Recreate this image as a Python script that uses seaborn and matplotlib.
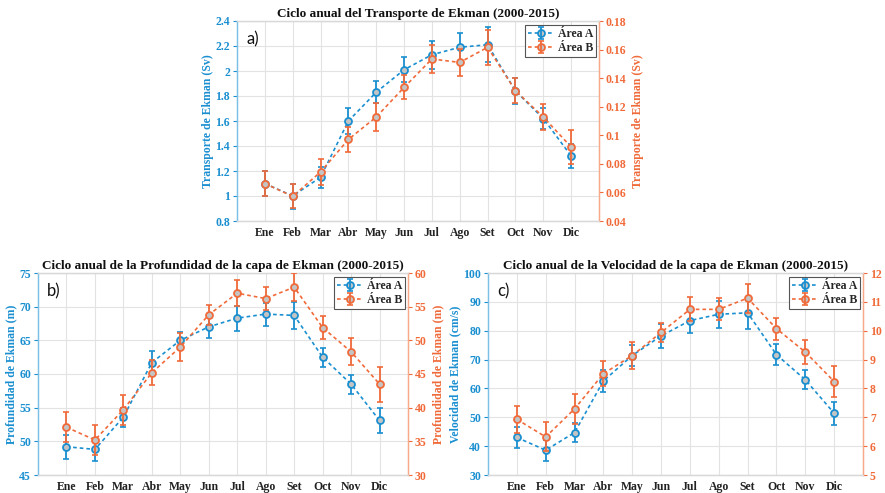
import numpy as np
import pandas as pd
import matplotlib
matplotlib.use("Agg")
import matplotlib.pyplot as plt
import seaborn as sns
from matplotlib.ticker import FuncFormatter, MultipleLocator
from matplotlib.legend_handler import HandlerTuple

# ---------------- data ----------------
meses = ["Ene", "Feb", "Mar", "Abr", "May", "Jun", "Jul", "Ago", "Set", "Oct", "Nov", "Dic"]

# a) Transporte de Ekman
trans_A = [1.10, 1.00, 1.15, 1.60, 1.83, 2.01, 2.13, 2.19, 2.21, 1.84, 1.62, 1.32]
trans_A_err = [0.10, 0.10, 0.085, 0.10, 0.087, 0.10, 0.11, 0.117, 0.139, 0.10, 0.083, 0.097]
trans_B = [0.0662, 0.0573, 0.0743, 0.0971, 0.1128, 0.1335, 0.1534, 0.1510, 0.1616, 0.1312, 0.1128, 0.0918]
trans_B_err = [0.0087, 0.0085, 0.0093, 0.0088, 0.0099, 0.0084, 0.0098, 0.0096, 0.0124, 0.0088, 0.0093, 0.0117]

# b) Profundidad de la capa de Ekman
prof_A = [49.2, 48.8, 53.6, 61.7, 65.0, 67.0, 68.3, 68.9, 68.7, 62.5, 58.5, 53.1]
prof_A_err = [1.8, 1.7, 1.4, 1.7, 1.2, 1.6, 1.85, 1.7, 2.05, 1.4, 1.4, 1.8]
prof_B = [37.1, 35.2, 39.7, 45.2, 49.0, 53.8, 57.0, 56.2, 57.9, 51.9, 48.3, 43.5]
prof_B_err = [2.2, 2.3, 2.2, 1.9, 2.1, 1.5, 1.9, 1.7, 2.1, 1.65, 2.0, 2.6]

# c) Velocidad de la capa de Ekman
vel_A = [43.0, 38.6, 44.7, 62.6, 71.4, 78.2, 83.5, 85.7, 86.2, 71.7, 63.0, 51.4]
vel_A_err = [3.7, 3.7, 3.3, 3.7, 3.5, 4.3, 4.2, 4.6, 5.5, 3.6, 3.3, 3.9]
vel_B = [6.93, 6.32, 7.29, 8.51, 9.14, 9.94, 10.74, 10.74, 11.13, 10.07, 9.26, 8.24]
vel_B_err = [0.47, 0.50, 0.52, 0.43, 0.46, 0.33, 0.42, 0.38, 0.50, 0.38, 0.43, 0.55]

# ---------------- style ----------------
sns.set_theme(style="whitegrid")
plt.rcParams["font.family"] = ["Liberation Serif", "DejaVu Serif"]

C_A = "#1a8fd0"
C_B = "#f06a3a"
C_A_SP = "#7cc0e8"
C_B_SP = "#f7a988"
FACE = "#c4c4c4"
GRID = "#e3e3e3"

fig = plt.figure(figsize=(8.85, 4.93), dpi=100)

rects = {
    "a": [237 / 885, 1 - 221 / 493, 362 / 885, 200 / 493],
    "b": [38 / 885, 1 - 475 / 493, 370 / 885, 202 / 493],
    "c": [488 / 885, 1 - 475 / 493, 375 / 885, 202 / 493],
}

fmt = FuncFormatter(lambda v, p: "%g" % round(v, 6))


def panel(key, title, yA, eA, yB, eB, limA, stepA, limB, stepB, labA, labB, lab_txt):
    ax = fig.add_axes(rects[key])
    ax2 = ax.twinx()
    x = np.arange(len(meses))
    dfA = pd.DataFrame({"mes": x, "val": yA})
    dfB = pd.DataFrame({"mes": x, "val": yB})

    # error bars
    ax.errorbar(x, yA, yerr=eA, fmt="none", ecolor=C_A, elinewidth=1.3, capsize=2, capthick=1.2, zorder=3)
    ax2.errorbar(x, yB, yerr=eB, fmt="none", ecolor=C_B, elinewidth=1.3, capsize=2, capthick=1.2, zorder=3)
    # lines with markers
    sns.lineplot(data=dfA, x="mes", y="val", ax=ax, color=C_A, linestyle=(0, (2.2, 1.8)), linewidth=1.2,
                 marker="o", markersize=5, markerfacecolor=FACE, markeredgecolor=C_A,
                 markeredgewidth=1.3, zorder=4)
    sns.lineplot(data=dfB, x="mes", y="val", ax=ax2, color=C_B, linestyle=(0, (2.2, 1.8)), linewidth=1.2,
                 marker="o", markersize=5, markerfacecolor=FACE, markeredgecolor=C_B,
                 markeredgewidth=1.3, zorder=4)

    for a in (ax, ax2):
        a.set_xlim(-1, 12)
        a.set_xlabel("")
    ax.set_ylim(*limA)
    ax2.set_ylim(*limB)
    ax.yaxis.set_major_locator(MultipleLocator(stepA))
    ax2.yaxis.set_major_locator(MultipleLocator(stepB))
    ax.yaxis.set_major_formatter(fmt)
    ax2.yaxis.set_major_formatter(fmt)
    ax.set_xticks(x)
    ax.set_xticklabels(meses)

    ax.grid(True, color=GRID, linewidth=0.8)
    ax2.grid(False)
    ax.set_facecolor("white")

    for lab in ax.get_xticklabels():
        lab.set_fontweight("bold")
        lab.set_fontsize(8.5)
        lab.set_color("#222222")
    ax.tick_params(axis="x", length=0, pad=4)
    ax.tick_params(axis="y", colors=C_A, labelsize=8.5, length=3, width=0.8, pad=2, direction="out")
    ax2.tick_params(axis="y", colors=C_B, labelsize=8.5, length=3, width=0.8, pad=2, direction="out")
    ax.tick_params(axis="y", left=True)
    ax2.tick_params(axis="y", right=True)
    for lab in ax.get_yticklabels() + ax2.get_yticklabels():
        lab.set_fontweight("bold")

    for a in (ax, ax2):
        a.spines["top"].set_color("#d8d8d8")
        a.spines["bottom"].set_color("#d8d8d8")
        a.spines["left"].set_color(C_A_SP)
        a.spines["right"].set_color(C_B_SP)
        for s in a.spines.values():
            s.set_linewidth(0.9)
            s.set_visible(True)

    ax.set_ylabel(labA, color=C_A, fontsize=8.5, fontweight="bold", labelpad=1)
    ax2.set_ylabel(labB, color=C_B, fontsize=8.5, fontweight="bold", labelpad=4)
    ax.set_title(title, fontsize=9.5, fontweight="bold", color="#111111", pad=3)

    ax.text(0.025, 0.95, lab_txt, transform=ax.transAxes, ha="left", va="top",
            fontsize=12, family="Lato", color="#111111", zorder=6)

    # legend
    lA = ax.lines[-1]
    lB = ax2.lines[-1]
    eAc = ax.containers[0]
    eBc = ax2.containers[0]
    leg = ax2.legend([(lA, eAc), (lB, eBc)], ["Área A", "Área B"],
                     handler_map={tuple: HandlerTuple(ndivide=1)},
                     loc="upper right", bbox_to_anchor=(0.995, 0.985),
                     prop={"weight": "bold", "size": 8.5}, frameon=True, fancybox=False,
                     edgecolor="#555555", framealpha=1, handlelength=2.2, handletextpad=0.3,
                     borderpad=0.25, labelspacing=0.15, borderaxespad=0.1)
    leg.get_frame().set_linewidth(0.8)
    ax2.set_zorder(ax.get_zorder() + 1)
    ax2.patch.set_visible(False)
    return ax, ax2


panel("a", "Ciclo anual del Transporte de Ekman (2000-2015)",
      trans_A, trans_A_err, trans_B, trans_B_err,
      (0.8, 2.4), 0.2, (0.04, 0.18), 0.02,
      "Transporte de Ekman (Sv)", "Transporte de Ekman (Sv)", "a)")

panel("b", "Ciclo anual de la Profundidad de la capa de Ekman (2000-2015)",
      prof_A, prof_A_err, prof_B, prof_B_err,
      (45, 75), 5, (30, 60), 5,
      "Profundidad de Ekman (m)", "Profundidad de Ekman (m)", "b)")

panel("c", "Ciclo anual de la Velocidad de la capa de Ekman (2000-2015)",
      vel_A, vel_A_err, vel_B, vel_B_err,
      (30, 100), 10, (5, 12), 1,
      "Velocidad de Ekman (cm/s)", "Velocidad de Ekman (cm/s)", "c)")

fig.savefig("out.png", dpi=100, facecolor="white")
